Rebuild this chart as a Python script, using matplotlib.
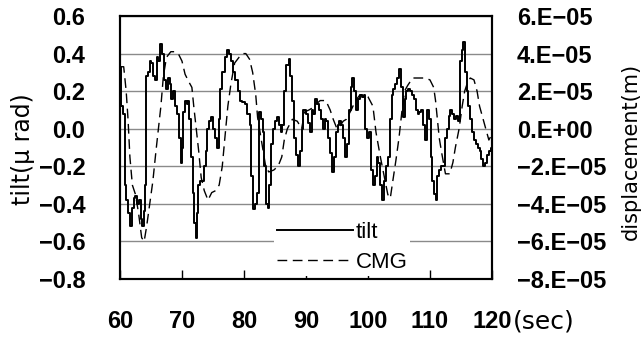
import numpy as np
import matplotlib
matplotlib.use("Agg")
import matplotlib.pyplot as plt
from matplotlib.ticker import FuncFormatter, MultipleLocator

# tilt record (micro rad) read at irregular times (sec)
tilt_t = [60.0, 60.2, 60.5, 60.8, 61.0, 61.3, 61.6, 61.9, 62.2, 62.5, 62.8, 63.1, 63.4, 63.6, 63.9,
          64.1, 64.2, 64.5, 64.8, 65.0, 65.3, 65.6, 65.9, 66.2, 66.5, 66.8, 67.1, 67.4, 67.7, 68.0,
          68.3, 68.6, 68.9, 69.2, 69.5, 69.8, 70.0, 70.2, 70.5, 70.8, 71.0, 71.2, 71.5, 71.8, 72.0,
          72.2, 72.4, 72.6, 72.9, 73.3, 73.6, 73.9, 74.1, 74.4, 74.7, 75.0, 75.3, 75.6, 75.9, 76.2,
          76.5, 76.9, 77.3, 77.6, 77.9, 78.2, 78.6, 79.0, 79.4, 79.7, 80.2, 80.5, 80.9, 81.2, 81.5,
          81.8, 82.1, 82.4, 82.7, 83.0, 83.3, 83.6, 83.9, 84.1, 84.4, 84.7, 85.0, 85.3, 85.6, 85.9,
          86.2, 86.5, 86.8, 87.2, 87.5, 87.8, 88.1, 88.4, 88.7, 89.0, 89.3, 89.6, 90.0, 90.3, 90.6,
          90.9, 91.2, 91.5, 91.8, 92.1, 92.4, 92.7, 93.0, 93.3, 93.6, 93.9, 94.2, 94.5, 94.8, 95.1,
          95.4, 95.7, 96.0, 96.3, 96.6, 96.9, 97.2, 97.5, 97.8, 98.1, 98.4, 98.7, 99.0, 99.3, 99.6,
          99.9, 100.2, 100.5, 100.8, 101.1, 101.4, 101.7, 102.0, 102.3, 102.6, 102.9, 103.2, 103.5,
          103.8, 104.1, 104.4, 104.7, 105.0, 105.3, 105.6, 105.9, 106.2, 106.5, 106.8, 107.1, 107.4,
          107.7, 108.0, 108.3, 108.6, 108.9, 109.2, 109.5, 109.8, 110.1, 110.4, 110.7, 110.9, 111.2,
          111.5, 111.8, 112.1, 112.4, 112.7, 113.0, 113.3, 113.6, 113.9, 114.2, 114.5, 114.8, 115.1,
          115.3, 115.6, 115.9, 116.2, 116.5, 116.8, 117.1, 117.4, 117.7, 118.0, 118.3, 118.6, 118.9,
          119.2, 119.5, 119.8, 120.0]
tilt_v = [0.33, 0.12, 0.08, -0.30, -0.38, -0.45, -0.52, -0.42, -0.37, -0.36, -0.40, -0.38, -0.48, -0.52, -0.44,
          -0.30, 0.28, 0.30, 0.36, 0.35, 0.28, 0.26, 0.38, 0.36, 0.45, 0.40, 0.26, 0.21, 0.27, 0.24,
          0.16, 0.20, 0.12, 0.08, -0.05, -0.18, -0.10, 0.09, 0.15, 0.13, 0.15, 0.05, -0.15, -0.34, -0.50,
          -0.58, -0.45, -0.30, -0.28, -0.28, -0.20, -0.12, 0.00, 0.04, 0.06, 0.00, -0.05, -0.10, 0.05, 0.21,
          0.30, 0.38, 0.42, 0.40, 0.36, 0.30, 0.26, 0.20, 0.15, 0.14, 0.13, 0.08, 0.02, -0.25, -0.43,
          -0.40, -0.34, 0.09, 0.05, -0.02, -0.20, -0.40, -0.42, -0.30, -0.08, 0.00, 0.04, 0.06, 0.02, -0.02,
          0.02, 0.20, 0.34, 0.37, 0.28, 0.15, -0.05, -0.14, -0.20, -0.12, 0.00, 0.10, 0.08, 0.03, -0.02,
          0.10, 0.08, 0.16, 0.13, 0.10, 0.05, 0.00, 0.05, 0.04, -0.05, -0.13, -0.23, -0.15, -0.02, 0.02,
          0.04, 0.02, -0.05, -0.15, -0.08, 0.10, 0.22, 0.27, 0.20, 0.10, 0.16, 0.18, 0.17, 0.18, 0.00,
          -0.05, -0.02, -0.22, -0.30, -0.25, -0.15, -0.18, -0.30, -0.38, -0.28, -0.20, -0.15, 0.05,
          0.18, 0.21, 0.24, 0.27, 0.32, 0.22, 0.06, 0.16, 0.20, 0.21, 0.20, 0.18, 0.16,
          0.10, 0.08, 0.09, 0.10, 0.02, -0.06, 0.10, 0.05, -0.15, -0.28, -0.35, -0.38, -0.25,
          -0.22, -0.20, -0.20, -0.05, 0.00, 0.07, 0.10, 0.08, 0.05, 0.07, 0.04, 0.36, 0.42,
          0.46, 0.30, 0.20, 0.12, 0.05, -0.02, -0.06, -0.08, -0.10, -0.12, -0.16, -0.20, -0.18,
          -0.14, -0.12, -0.10, -0.08]

# CMG displacement (micrometre)
cmg_t = [60.0, 60.6, 61.0, 61.3, 61.6, 62.0, 62.5, 63.0, 63.5, 63.9, 64.3, 64.8, 65.3, 65.8, 66.2,
         66.6, 67.0, 67.5, 68.2, 68.8, 69.4, 70.0, 70.5, 71.1, 71.6, 71.9, 72.3, 72.7, 73.1, 73.6,
         74.2, 74.8, 75.4, 76.0, 76.5, 77.0, 77.4, 77.9, 78.5, 79.2, 79.8, 80.3, 80.9, 81.4, 81.9,
         82.2, 82.6, 83.1, 83.5, 84.0, 84.8, 85.5, 86.1, 86.5, 87.0, 87.8, 88.6, 89.3, 89.8, 90.5,
         91.0, 91.6, 92.3, 93.2, 93.9, 94.4, 95.0, 95.6, 96.0, 96.5, 97.3, 98.0, 98.7, 99.4, 100.0,
         100.8, 101.3, 102.0, 102.6, 103.2, 103.6, 104.0, 104.5, 105.0, 105.5, 105.9, 106.4, 107.2,
         108.2, 109.2, 110.0, 110.6, 110.9, 111.2, 111.5, 111.9, 112.5, 113.2, 113.7, 114.1, 114.7,
         115.2, 115.6, 116.0, 116.5, 117.1, 117.6, 118.0, 118.5, 119.0, 119.5, 120.0]
cmg_um = [33, 33, 20, 5, -15, -30, -35, -45, -58, -60, -52, -40, -28, -12, 0,
          12, 28, 38, 41, 41, 40, 36, 29, 25, 22, 12, 0, -12, -26, -33,
          -38, -34, -33, -30, -20, -2, 12, 24, 35, 38, 40, 40, 37, 30, 18,
          6, -2, -12, -20, -23, -22, -20, -15, -6, 0, 5, 4, 0, 9, 10,
          11, 13, 15, 15, 10, 5, 0, 2, 4, 5, 10, 15, 18, 18, 17,
          12, -2, -15, -25, -35, -37, -28, -17, -5, 10, 20, 23, 27,
          27, 27, 26, 22, 15, 5, -5, -13, -24, -24, -18, -10, 0,
          12, 20, 24, 27, 26, 20, 12, 6, 0, -6, -3]

x_ticks = [60, 70, 80, 90, 100, 110, 120]
tilt_ticks = [-0.8, -0.6, -0.4, -0.2, 0.0, 0.2, 0.4, 0.6]

num_font = "Liberation Sans"

fig = plt.figure(figsize=(6.44, 3.4), dpi=100)
ax = fig.add_axes([0.1863, 0.1794, 0.5776, 0.7735])
ax2 = ax.twinx()

ax.plot(tilt_t, tilt_v, color="black", lw=1.4, drawstyle="steps-post", label="tilt")
ax2.plot(cmg_t, np.array(cmg_um) * 1e-6, color="black", lw=1.0, dashes=(7, 4), label="CMG")

ax.set_xlim(60, 120)
ax.set_ylim(-0.8, 0.6)
ax2.set_ylim(-8e-5, 6e-5)
ax.set_xticks(x_ticks)
ax.set_yticks(tilt_ticks)
ax2.yaxis.set_major_locator(MultipleLocator(2e-5))

ax.grid(axis="y", color="#8a8a8a", lw=1.0)
ax.set_axisbelow(True)

ax.yaxis.set_major_formatter(FuncFormatter(lambda v, p: ("%.1f" % v).replace("-", "\u2212")))
ax2.yaxis.set_major_formatter(FuncFormatter(lambda v, p: ("%#.0E" % (0 if abs(v) < 1e-12 else v)).replace("-", "\u2212")))
ax.set_xticklabels([str(v) for v in x_ticks])

ax.tick_params(axis="x", direction="in", length=6.5, width=1.0, pad=22, top=False)
ax.tick_params(axis="y", length=0, pad=25)
ax2.tick_params(axis="y", length=0, pad=18)
for lab in ax.get_xticklabels() + ax.get_yticklabels() + ax2.get_yticklabels():
    lab.set_fontfamily(num_font)
    lab.set_fontweight("bold")
    lab.set_fontsize(17)

for a in (ax, ax2):
    for s in a.spines.values():
        s.set_linewidth(1.5)

fig.text(0.036, 0.56, "tilt(\u03bc rad)", rotation=90, ha="center", va="center",
         fontsize=17, family="DejaVu Sans")
fig.text(0.979, 0.555, "displacement(m)", rotation=90, ha="center", va="center",
         fontsize=15, family="DejaVu Sans")
fig.text(0.797, 0.055, "(sec)", ha="left", va="center", fontsize=18, family="DejaVu Sans")

h1, l1 = ax.get_legend_handles_labels()
h2, l2 = ax2.get_legend_handles_labels()
leg = ax2.legend(h1 + h2, l1 + l2, loc="lower left", bbox_to_anchor=(0.385, -0.03),
                 frameon=True, fancybox=False, facecolor="white", edgecolor="none", framealpha=1,
                 handlelength=3.4, handletextpad=0.15, labelspacing=0.43, borderpad=0.12,
                 prop={"family": num_font, "size": 16})
leg.set_zorder(2.2)

fig.savefig("out.png", dpi=100)
